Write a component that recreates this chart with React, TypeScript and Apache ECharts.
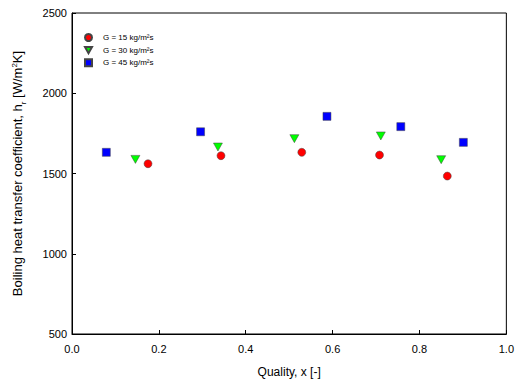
import React, { useEffect, useRef } from "react";
import * as echarts from "echarts";

const seriesNames = ["G = 15 kg/m²s", "G = 30 kg/m²s", "G = 45 kg/m²s"];
const g15x = [0.175, 0.343, 0.529, 0.708, 0.864];
const g15y = [1561, 1611, 1632, 1615, 1484];
const g30x = [0.146, 0.336, 0.512, 0.711, 0.85];
const g30y = [1588, 1665, 1717, 1734, 1586];
const g45x = [0.079, 0.296, 0.587, 0.757, 0.901];
const g45y = [1632, 1760, 1856, 1792, 1694];

const zip = (xs: number[], ys: number[]) => xs.map((x, i) => [x, ys[i]]);

const FONT = "Liberation Sans, Arial, sans-serif";
const tri = "path://M0,0 L10,0 L5,9 Z";

export default function App() {
  const ref = useRef<HTMLDivElement>(null);
  useEffect(() => {
    const chart = echarts.init(ref.current!, undefined, { renderer: "svg" });
    const axisLine = { show: true, lineStyle: { color: "#000", width: 1 } };
    chart.setOption({
      animation: false,
      backgroundColor: "#fff",
      grid: { left: 72, right: 10, top: 13, bottom: 53, show: true, borderColor: "#000", borderWidth: 1 },
      legend: {
        orient: "vertical",
        left: 79,
        top: 28,
        itemWidth: 7,
        itemHeight: 7,
        itemGap: 4,
        textStyle: { fontSize: 8, fontFamily: FONT, color: "#000", padding: [0, 0, 0, 6] },
        data: [
          { name: seriesNames[0], icon: "circle" },
          { name: seriesNames[1], icon: tri },
          { name: seriesNames[2], icon: "rect" },
        ],
      },
      xAxis: {
        type: "value",
        min: 0,
        max: 1,
        interval: 0.2,
        name: "Quality, x [-]",
        nameLocation: "middle",
        nameGap: 32,
        nameTextStyle: { fontSize: 12, fontFamily: FONT, color: "#000" },
        axisLine,
        axisTick: { inside: true, length: 4, lineStyle: { color: "#000" } },
        axisLabel: { fontSize: 11, fontFamily: FONT, color: "#000", margin: 9, formatter: (v: number) => v.toFixed(1) },
        splitLine: { show: false },
      },
      yAxis: {
        type: "value",
        min: 500,
        max: 2500,
        interval: 500,
        name: "Boiling heat transfer coefficient, h{sub|r} [W/m{sup|2}K]",
        nameLocation: "middle",
        nameGap: 48,
        nameTextStyle: {
          fontSize: 13,
          fontFamily: FONT,
          color: "#000",
          rich: {
            sub: { fontSize: 8, fontFamily: FONT, color: "#000", verticalAlign: "bottom", padding: [0, 0, -3, 0] },
            sup: { fontSize: 8, fontFamily: FONT, color: "#000", verticalAlign: "top", padding: [0, 0, 6, 0] },
          },
        },
        axisLine,
        axisTick: { inside: true, length: 4, lineStyle: { color: "#000" } },
        axisLabel: { fontSize: 11, fontFamily: FONT, color: "#000", margin: 5, formatter: (v: number) => String(v) },
        splitLine: { show: false },
      },
      series: [
        {
          name: seriesNames[0],
          type: "scatter",
          symbol: "circle",
          symbolSize: 8,
          itemStyle: { color: "#ff0000", opacity: 1, borderColor: "#444", borderWidth: 0.5 },
          data: zip(g15x, g15y),
        },
        {
          name: seriesNames[1],
          type: "scatter",
          symbol: tri,
          symbolSize: [9, 8],
          itemStyle: { color: "#00ff00", opacity: 1, borderColor: "#444", borderWidth: 0.5 },
          data: zip(g30x, g30y),
        },
        {
          name: seriesNames[2],
          type: "scatter",
          symbol: "rect",
          symbolSize: 8,
          itemStyle: { color: "#0000ff", opacity: 1, borderColor: "#444", borderWidth: 0.5 },
          data: zip(g45x, g45y),
        },
      ],
    });
    return () => chart.dispose();
  }, []);
  return <div ref={ref} style={{ width: 517, height: 387, position: "absolute", left: 0, top: 0 }} />;
}
